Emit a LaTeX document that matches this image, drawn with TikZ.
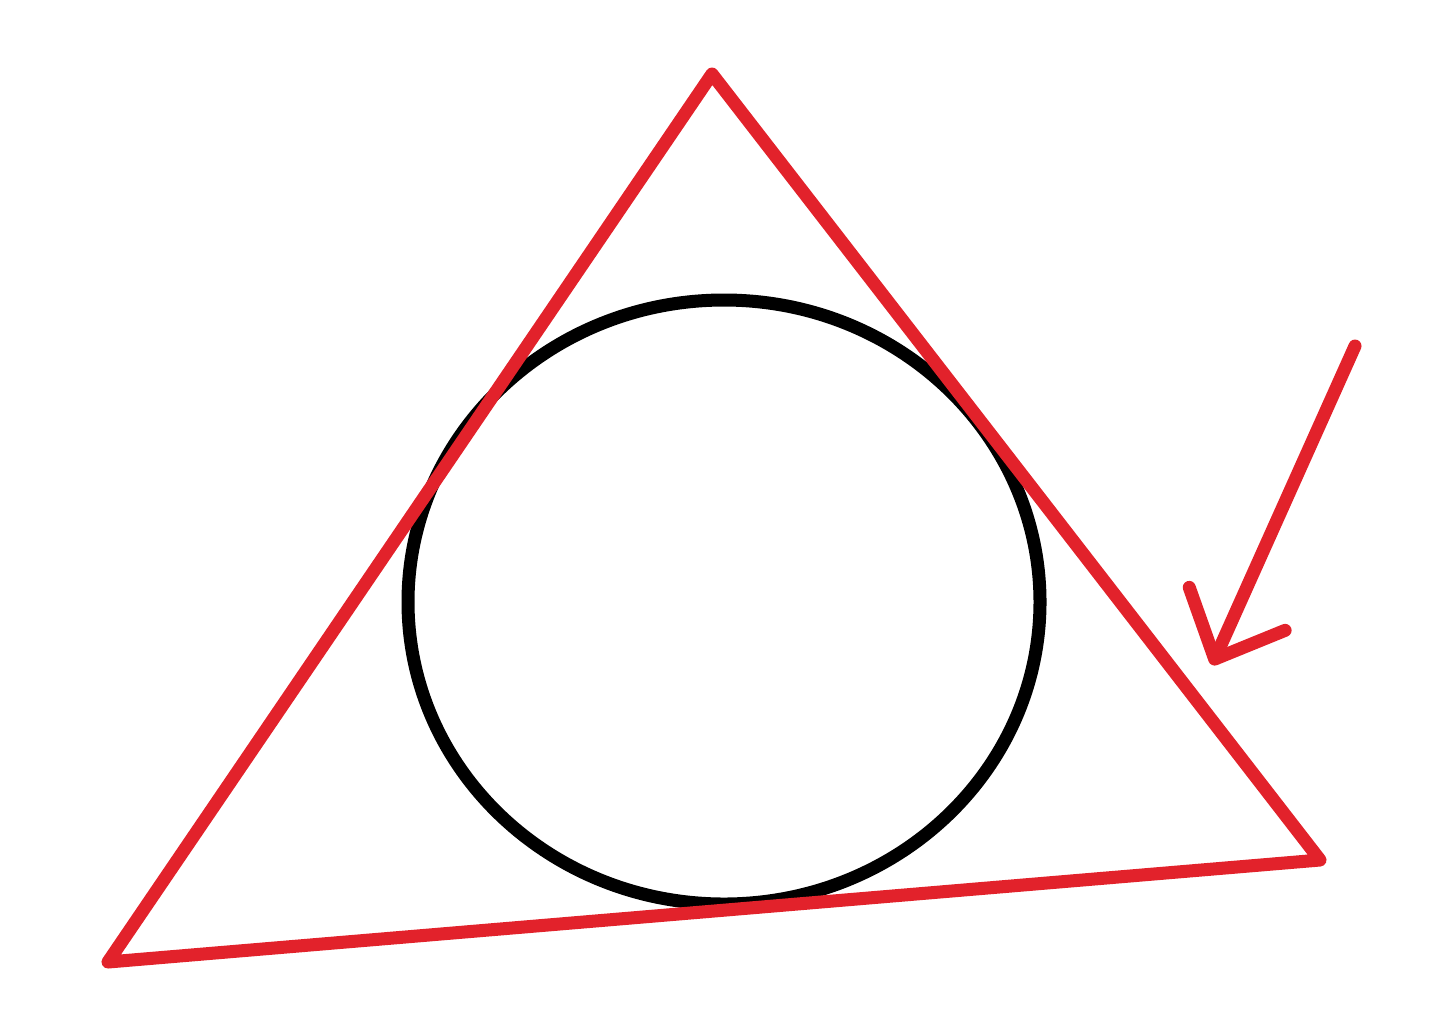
\documentclass[tikz,border=0pt]{standalone}
\usepackage{xcolor}
\usepackage{tikz}
\usetikzlibrary{arrows.meta, calc}
\definecolor{penred}{HTML}{E2222B}

\begin{document}
\begin{tikzpicture}[x=0.01cm, y=-0.01cm]
  \useasboundingbox (0,0) rectangle (1440,1011);

  % Triangle corners
  \coordinate (top) at (712,74);
  \coordinate (left) at (108,962);
  \coordinate (right) at (1320,860);

  % Inscribed circle
  \draw[line width=3.7pt, black] (724,602) ellipse [x radius=316, y radius=302];

  % Triangle
  \draw[line width=3.7pt, penred, line join=round, line cap=round] (top) -- (right) -- (left) -- cycle;

  % Pointer arrow
  \coordinate (tail) at (1355,346);
  \coordinate (tip) at (1212,665);
  \draw[line width=3.7pt, penred, line cap=round,
        -{Straight Barb[length=5.5mm, width=10.5mm, round]}] (tail) -- (tip);
\end{tikzpicture}
\end{document}
